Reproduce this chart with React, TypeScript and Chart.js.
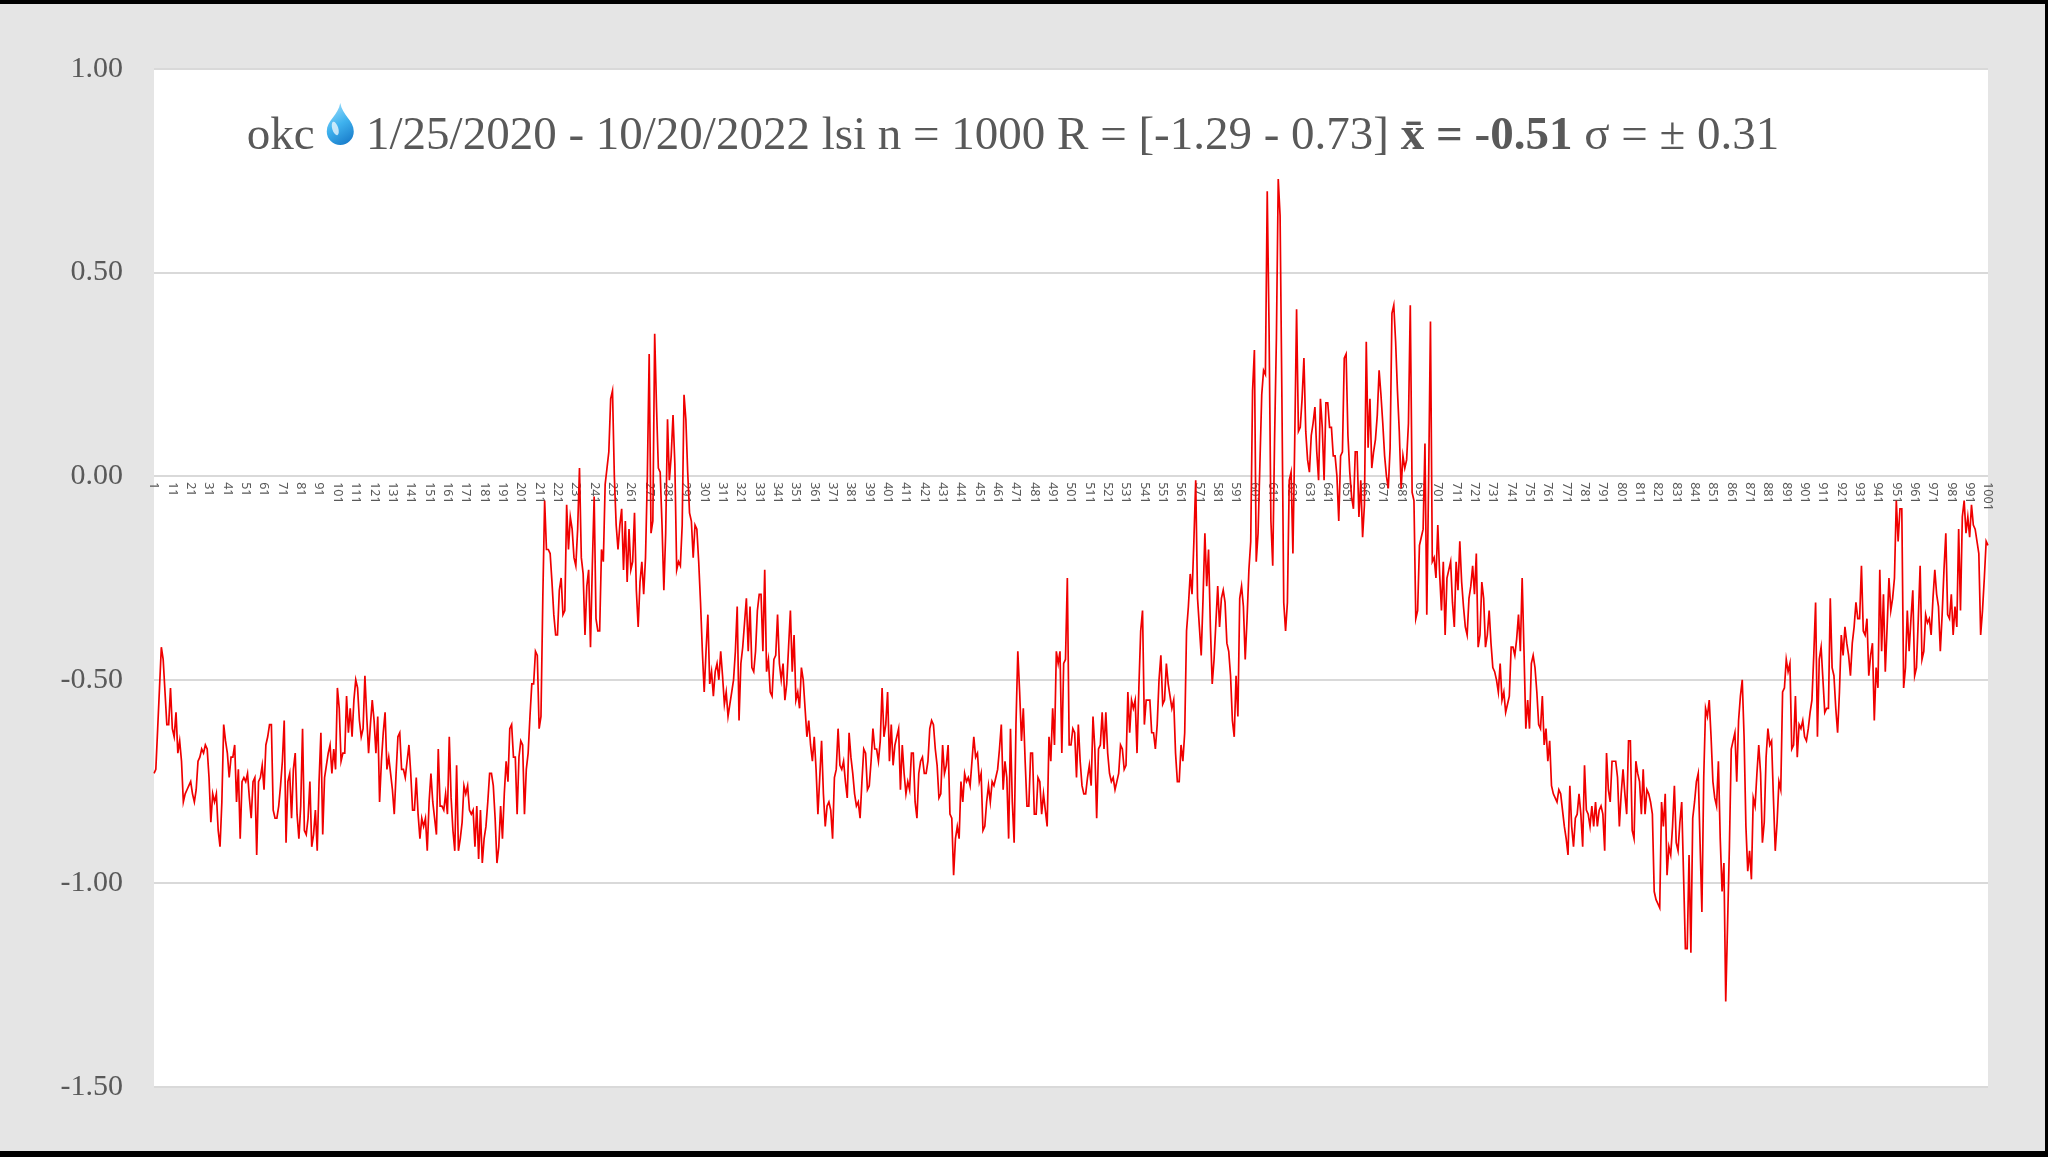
import React, { useEffect, useRef } from 'react';
import { Chart, registerables, CategoryScale } from 'chart.js';

Chart.register(...registerables);

// LSI values, in hundredths (points 1..1001)
const lsiPart1 = [
  -73,-72,-62,-52,-42,-45,-53,-61,-61,-52,
  -62,-64,-58,-68,-65,-70,-80,-78,-77,-76,
  -75,-78,-80,-77,-70,-69,-67,-68,-66,-67,
  -74,-85,-78,-80,-78,-87,-91,-80,-61,-65,
  -68,-74,-69,-69,-66,-80,-72,-89,-75,-74,
  -75,-73,-79,-84,-75,-74,-93,-75,-74,-71,
  -77,-66,-64,-61,-61,-82,-84,-84,-81,-76,
  -70,-60,-90,-75,-73,-84,-72,-68,-83,-89,
  -81,-62,-87,-88,-84,-75,-91,-88,-82,-92,
  -75,-63,-88,-74,-71,-68,-66,-73,-67,-72,
  -52,-57,-70,-68,-68,-54,-63,-57,-64,-55,
  -50,-52,-60,-64,-62,-49,-59,-68,-61,-55,
  -60,-68,-59,-80,-70,
];
const lsiPart2 = [
  -63,-58,-72,-69,-73,-77,-83,-73,-64,-63,
  -72,-72,-74,-70,-66,-73,-82,-82,-74,-83,
  -89,-84,-86,-84,-92,-80,-73,-80,-84,-88,
  -67,-81,-81,-82,-78,-83,-64,-79,-87,-92,
  -71,-92,-89,-85,-76,-78,-76,-82,-83,-82,
  -91,-81,-94,-82,-95,-89,-86,-80,-73,-73,
  -76,-84,-95,-91,-81,-89,-78,-70,-75,-62,
  -61,-69,-69,-83,-69,-65,-66,-83,-72,-68,
  -59,-51,-51,-43,-44,-62,-59,-30,-6,-18,
  -18,-19,-26,-34,-39,-39,-28,-25,-34,-33,
  -7,-18,-10,-13,-20,-22,-13,2,-20,-24,
  -39,-27,-23,-42,-22,-5,-35,-38,-38,-18,
  -21,-2,2,6,19,21,
];
const lsiPart3 = [
  0,-12,-18,-12,-8,-23,-11,-26,-13,-23,
  -21,-9,-28,-37,-26,-21,-29,-20,0,30,
  -14,-11,35,17,2,1,-12,-28,-14,14,
  -1,5,15,3,-23,-21,-22,-12,20,14,
  1,-9,-11,-20,-12,-13,-21,-31,-43,-53,
  -43,-34,-51,-48,-54,-48,-46,-50,-43,-49,
  -56,-53,-59,-56,-53,-50,-43,-32,-60,-46,
  -42,-36,-30,-43,-32,-47,-48,-43,-33,-29,
  -29,-43,-23,-48,-45,-53,-54,-45,-44,-34,
  -46,-50,-46,-55,-51,-42,-33,-48,-39,-55,
  -53,-57,-47,-50,-57,-64,-60,-66,-70,-64,
  -72,-83,-74,-65,-78,-86,-81,-80,-82,-89,
  -74,-72,-62,
];
const lsiPart4 = [
  -71,-72,-70,-75,-79,-63,-69,-73,-78,-81,
  -80,-84,-75,-67,-68,-77,-76,-70,-62,-67,
  -67,-70,-65,-52,-64,-61,-53,-70,-61,-71,
  -66,-64,-62,-77,-66,-73,-78,-75,-77,-68,
  -68,-80,-84,-73,-70,-69,-73,-73,-70,-62,
  -60,-61,-67,-71,-79,-78,-66,-73,-71,-66,
  -83,-84,-98,-89,-86,-89,-75,-80,-73,-75,
  -74,-76,-70,-64,-69,-68,-75,-73,-87,-86,
  -80,-76,-80,-75,-76,-74,-72,-67,-61,-77,
  -70,-74,-89,-62,-80,-90,-61,-43,-53,-65,
  -57,-70,-81,-81,-68,-68,-83,-83,-74,-75,
  -83,-78,-82,-86,-64,-70,-57,-66,-43,-46,
  -43,-68,-46,-45,-25,-66,-66,
];
const lsiPart5 = [
  -62,-63,-74,-61,-70,-76,-78,-78,-74,-71,
  -76,-59,-67,-84,-67,-66,-58,-67,-58,-68,
  -73,-75,-74,-77,-75,-73,-66,-67,-72,-71,
  -53,-63,-55,-57,-55,-68,-52,-38,-33,-61,
  -55,-55,-55,-63,-63,-67,-61,-50,-44,-56,
  -55,-46,-51,-54,-57,-55,-68,-75,-75,-66,
  -70,-63,-38,-32,-24,-29,-16,-1,-30,-37,
  -44,-30,-14,-27,-18,-37,-51,-45,-36,-27,
  -37,-30,-28,-31,-41,-43,-49,-60,-64,-49,
  -59,-30,-27,-32,-45,-35,-23,-16,21,31,
  -21,-14,3,20,26,25,70,36,-11,-22,
  9,34,73,64,19,-31,-38,-31,-1,1,
  -19,9,41,11,12,
];
const lsiPart6 = [
  19,29,11,4,1,10,13,17,6,-1,
  19,12,-1,18,18,12,12,5,5,0,
  -11,5,6,29,30,10,1,-5,-8,6,
  6,-10,-1,-15,-7,33,7,19,2,6,
  9,15,26,20,13,5,0,-3,7,40,
  42,33,21,11,-3,5,2,4,13,42,
  -4,-6,-35,-33,-17,-15,-13,8,-34,-1,
  38,-21,-20,-25,-12,-24,-33,-21,-39,-25,
  -23,-21,-31,-37,-21,-28,-16,-26,-32,-37,
  -39,-30,-27,-22,-29,-19,-42,-39,-26,-30,
  -42,-39,-33,-41,-47,-48,-50,-53,-46,-55,
  -53,-58,-56,-54,-42,-42,-44,-40,-34,-43,
  -25,-43,-62,-55,-62,
];
const lsiPart7 = [
  -46,-44,-47,-53,-61,-62,-54,-66,-62,-70,
  -65,-76,-78,-79,-80,-77,-78,-82,-86,-89,
  -93,-76,-86,-91,-84,-83,-78,-83,-91,-71,
  -82,-83,-86,-81,-86,-80,-86,-82,-81,-83,
  -92,-68,-77,-80,-70,-70,-70,-74,-86,-78,
  -72,-78,-83,-65,-65,-87,-89,-70,-73,-75,
  -83,-72,-83,-77,-78,-80,-83,-102,-104,-105,
  -106,-80,-86,-78,-98,-91,-93,-86,-76,-90,
  -92,-85,-80,-98,-116,-116,-93,-117,-84,-80,
  -75,-73,-90,-107,-74,-57,-59,-55,-64,-75,
  -79,-81,-70,-89,-102,-95,-129,-110,-91,-67,
  -65,-63,-75,-60,-54,-50,-64,-86,-97,-92,
  -99,-79,-81,-73,-66,-73,
];
const lsiPart8 = [
  -90,-85,-69,-62,-66,-65,-79,-92,-85,-75,
  -77,-53,-52,-45,-48,-46,-67,-66,-54,-69,
  -61,-62,-60,-64,-65,-62,-58,-55,-44,-31,
  -64,-45,-42,-50,-58,-57,-57,-30,-47,-49,
  -57,-63,-53,-39,-44,-37,-41,-44,-49,-41,
  -37,-31,-35,-35,-22,-38,-39,-35,-49,-44,
  -41,-60,-47,-52,-23,-43,-29,-48,-37,-25,
  -33,-30,-25,-6,-16,-8,-8,-52,-47,-33,
  -43,-35,-28,-49,-47,-35,-22,-45,-43,-34,
  -36,-35,-39,-30,-23,-29,-32,-43,-34,-23,
  -14,-34,-35,-29,-39,-32,-37,-13,-33,-10,
  -6,-14,-10,-15,-7,-12,-13,-16,-19,-39,
  -33,-25,-16,-17,
];

const lsiValues = [
  ...lsiPart1, ...lsiPart2, ...lsiPart3, ...lsiPart4,
  ...lsiPart5, ...lsiPart6, ...lsiPart7, ...lsiPart8,
].map((v) => v / 100);

// category labels 1..1001, every 10th one shown
const categories = lsiValues.map((_, i) => String(i + 1));
const labelEvery = 10;

const yMin = -1.5;
const yMax = 1.0;
const yStep = 0.5;

const titleLead = 'okc';
const titleMid = '1/25/2020 - 10/20/2022 lsi n = 1000 R = [-1.29 - 0.73] ';
const titleBold = 'x\u0304 = -0.51';
const titleTail = ' \u03C3 = \u00B1 0.31';

const TEXT_GRAY = '#595959';
const SERIF = '"Liberation Serif", "Times New Roman", serif';

// category scale whose rotated labels read top-to-bottom, hanging below the axis
class DownLabelCategoryScale extends CategoryScale {
  static id = 'categoryDown';
  _computeLabelItems(chartArea: any) {
    // @ts-ignore
    const items = super._computeLabelItems(chartArea);
    items.forEach((it: any) => {
      it.options.textAlign = 'left';
    });
    return items;
  }
}
Chart.register(DownLabelCategoryScale as any);

const backgroundPlugin = {
  id: 'sheetBackground',
  beforeDraw(chart: any) {
    const { ctx, width, height, chartArea } = chart;
    ctx.save();
    ctx.fillStyle = '#e5e5e5';
    ctx.fillRect(0, 0, width, height);
    ctx.fillStyle = '#000000';
    ctx.fillRect(0, 0, width, 4);
    ctx.fillRect(0, height - 6, width, 6);
    ctx.fillRect(width - 3, 0, 3, height);
    ctx.fillStyle = '#ffffff';
    ctx.fillRect(chartArea.left, chartArea.top, chartArea.right - chartArea.left, chartArea.bottom - chartArea.top);
    ctx.restore();
  },
};

function drawDrop(ctx: CanvasRenderingContext2D, cx: number, top: number, bottom: number) {
  const r = 13.5;
  const cy = bottom - r;
  ctx.save();
  ctx.beginPath();
  ctx.moveTo(cx, top);
  ctx.bezierCurveTo(cx + 2, top + 12, cx + r, cy - 11, cx + r, cy);
  ctx.arc(cx, cy, r, 0, Math.PI, false);
  ctx.bezierCurveTo(cx - r, cy - 11, cx - 2, top + 12, cx, top);
  ctx.closePath();
  const g = ctx.createLinearGradient(cx - r, top, cx + r, bottom);
  g.addColorStop(0, '#a8e4ff');
  g.addColorStop(0.5, '#3fb2ee');
  g.addColorStop(1, '#1272c4');
  ctx.fillStyle = g;
  ctx.fill();
  ctx.beginPath();
  ctx.ellipse(cx - 5, cy - 3, 3, 7, -0.3, 0, Math.PI * 2);
  ctx.fillStyle = 'rgba(255,255,255,0.7)';
  ctx.fill();
  ctx.restore();
}

const titlePlugin = {
  id: 'lsiTitle',
  afterDraw(chart: any) {
    const ctx: CanvasRenderingContext2D = chart.ctx;
    const size = 47;
    const normal = `${size}px ${SERIF}`;
    const bold = `bold ${size}px ${SERIF}`;
    const baseline = 149;
    const centerX = 1013;
    const dropW = 28;
    ctx.save();
    ctx.textBaseline = 'alphabetic';
    ctx.textAlign = 'left';
    ctx.fillStyle = TEXT_GRAY;
    ctx.font = normal;
    const wLead = ctx.measureText(titleLead + ' ').width;
    const wSpace = ctx.measureText(' ').width;
    const wMid = ctx.measureText(titleMid).width;
    const wTail = ctx.measureText(titleTail).width;
    ctx.font = bold;
    const wBold = ctx.measureText(titleBold).width;
    const total = wLead + dropW + wSpace + wMid + wBold + wTail;
    let x = centerX - total / 2;
    ctx.font = normal;
    ctx.fillText(titleLead, x, baseline);
    x += wLead;
    drawDrop(ctx, x + dropW / 2, baseline - 46, baseline - 4);
    x += dropW + wSpace;
    ctx.fillText(titleMid, x, baseline);
    x += wMid;
    ctx.font = bold;
    ctx.fillText(titleBold, x, baseline);
    x += wBold;
    ctx.font = normal;
    ctx.fillText(titleTail, x, baseline);
    ctx.restore();
  },
};

export default function App() {
  const canvasRef = useRef<HTMLCanvasElement>(null);

  useEffect(() => {
    document.body.style.margin = '0';
    const canvas = canvasRef.current;
    if (!canvas) return;
    const chart = new Chart(canvas, {
      type: 'line',
      data: {
        labels: categories,
        datasets: [
          {
            label: 'lsi',
            data: lsiValues,
            borderColor: '#f00000',
            borderWidth: 1.7,
            pointRadius: 0,
            pointHoverRadius: 0,
            tension: 0,
            fill: false,
          },
        ],
      },
      options: {
        animation: false,
        responsive: false,
        devicePixelRatio: 1,
        events: [],
        layout: { padding: { left: 0, right: 60, top: 69, bottom: 70 } },
        plugins: {
          legend: { display: false },
          title: { display: false },
          tooltip: { enabled: false },
        },
        scales: {
          x: {
            type: 'categoryDown' as any,
            position: { y: 0 } as any,
            offset: false,
            grid: { display: false, drawTicks: false },
            border: { display: false },
            ticks: {
              autoSkip: false,
              minRotation: -90,
              maxRotation: -90,
              padding: 6,
              color: TEXT_GRAY,
              font: { family: '"Noto Sans", "Liberation Sans", sans-serif', size: 12.5 },
              callback: (_v: any, i: number) => (i % labelEvery === 0 ? categories[i] : null),
            },
          },
          y: {
            min: yMin,
            max: yMax,
            afterFit: (scale: any) => {
              scale.width = 154;
            },
            grid: { color: '#d9d9d9', lineWidth: 2, drawTicks: false },
            border: { display: false },
            ticks: {
              stepSize: yStep,
              padding: 31,
              color: TEXT_GRAY,
              font: { family: SERIF, size: 30 },
              callback: (v: any) => Number(v).toFixed(2),
            },
          },
        },
      },
      plugins: [backgroundPlugin, titlePlugin],
    });
    return () => chart.destroy();
  }, []);

  return (
    <div style={{ width: 2048, height: 1157, overflow: 'hidden' }}>
      <canvas ref={canvasRef} width={2048} height={1157} style={{ display: 'block', width: 2048, height: 1157 }} />
    </div>
  );
}
